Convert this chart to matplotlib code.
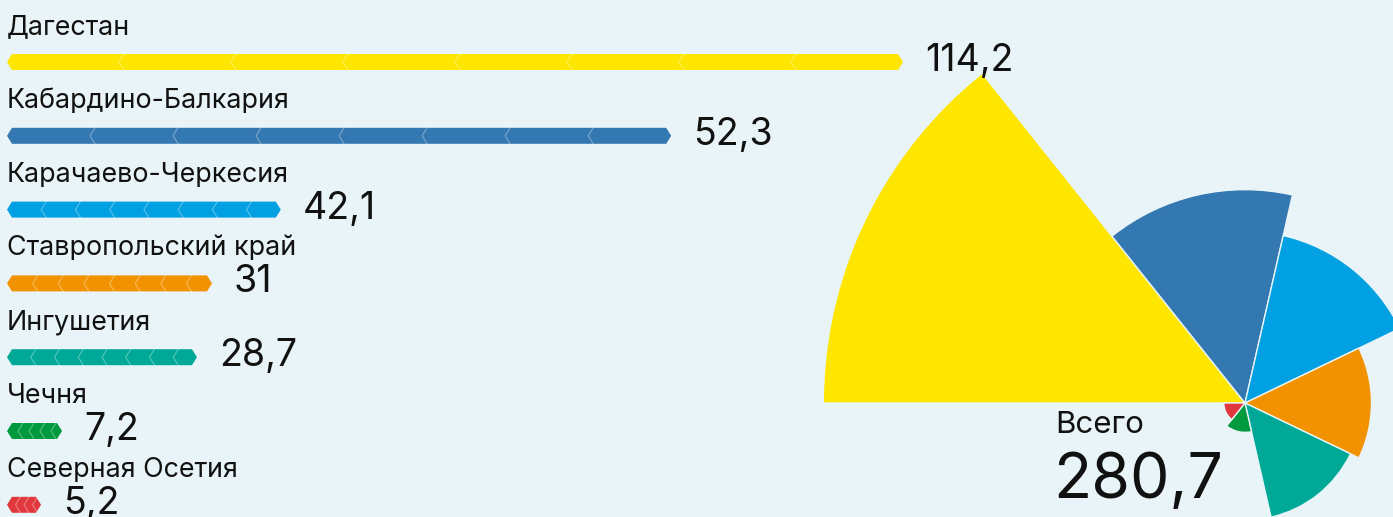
import numpy as np
import matplotlib.pyplot as plt
from matplotlib.patches import Polygon

plt.rcParams['font.family'] = ['Inter', 'DejaVu Sans']

# данные
regions = ['Дагестан', 'Кабардино-Балкария', 'Карачаево-Черкесия',
           'Ставропольский край', 'Ингушетия', 'Чечня', 'Северная Осетия']
values = [114.2, 52.3, 42.1, 31, 28.7, 7.2, 5.2]
value_labels = ['114,2', '52,3', '42,1', '31', '28,7', '7,2', '5,2']
# длины полос, как они нарисованы в исходнике (не строго пропорциональны)
bar_lengths = [136.8, 101.4, 41.8, 31.3, 29.0, 8.4, 5.2]
segments = [8, 8, 8, 8, 8, 5, 4]
total_label = '280,7'

colors = ['#ffe600', '#3478b2', '#00a0e2', '#f39200', '#00a997', '#009a3e', '#e0383c']
bg = '#e8f4f7'

W, H = 1393, 517
fig = plt.figure(figsize=(W / 100, H / 100), dpi=100, facecolor=bg)

# левая часть: полосы-шевроны
px_x = 6.55   # пикселей на единицу
px_y = 73.8   # шаг строк
ax = fig.add_axes([7 / W, 0, 1 - 7 / W, 1])
ax.set_xlim(0, (W - 7) / px_x)
ax.set_ylim((H - 62) / px_y, -62 / px_y)
ax.axis('off')
ax.set_zorder(3)

t = 5 / px_x
h = 8 / px_y
for i, (name, lab, L, n, c) in enumerate(zip(regions, value_labels, bar_lengths, segments, colors)):
    pts = [(0, i), (t, i - h), (L - t, i - h), (L, i), (L - t, i + h), (t, i + h)]
    ax.add_patch(Polygon(pts, closed=True, facecolor=c, edgecolor='none'))
    step = L / n
    for k in range(1, n):
        xb = k * step
        ax.plot([xb + t, xb, xb + t], [i - h, i, i + h], color='white', alpha=0.35, lw=0.8)
    ax.annotate(name, xy=(0, i), xytext=(0, 28), textcoords='offset pixels',
                ha='left', va='baseline', fontsize=19.3, color='#111111')
    ax.annotate(lab, xy=(L, i), xytext=(22, -9), textcoords='offset pixels',
                ha='left', va='baseline', fontsize=27, color='#111111')

# правая часть: роза
cx, cy = 1245, H - 403
R = 421
rmax = 103.2
pax = fig.add_axes([(cx - R) / W, (cy - R) / H, 2 * R / W, 2 * R / H], projection='polar')
pax.set_theta_zero_location('W')
pax.set_theta_direction(-1)
w = 2 * np.pi / len(values)
theta = (np.arange(len(values)) + 0.5) * w
pax.bar(theta, values, width=w, color=colors, edgecolor=bg, linewidth=1)
pax.set_ylim(0, rmax)
pax.axis('off')

fig.text(1055 / W, 1 - 433 / H, 'Всего', ha='left', va='baseline', fontsize=22.5, color='#111111')
fig.text(1053 / W, 1 - 498 / H, total_label, ha='left', va='baseline', fontsize=45, color='#111111')

fig.savefig('out.png', dpi=100, facecolor=bg)
